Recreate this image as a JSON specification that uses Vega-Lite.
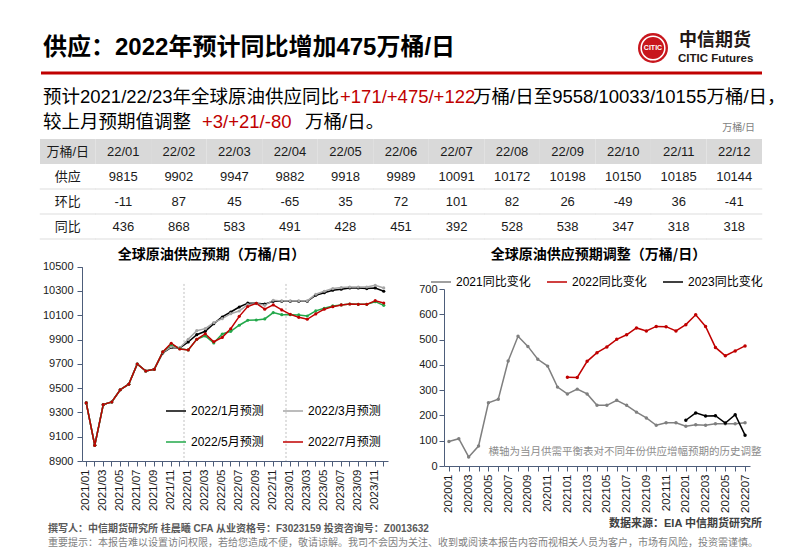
{
  "$schema": "https://vega.github.io/schema/vega-lite/v6.json",
  "background": "#ffffff",
  "padding": 0,
  "spacing": 0,
  "bounds": "flush",
  "config": {
    "view": {"stroke": null},
    "font": "Liberation Sans, Noto Sans CJK SC",
    "axis": {"domainColor": "#4d5d7a", "tickColor": "#4d5d7a", "grid": false, "labelFont": "Liberation Sans", "labelColor": "#1a1a1a", "tickSize": 5, "domainWidth": 1},
    "legend": {"labelFont": "Liberation Sans, Noto Sans CJK SC", "labelColor": "#000000"}
  },
  "vconcat": [
    {
      "width": 802,
      "height": 139,
      "layer": [
        {"data": {"values": [{"t": "供应：2022年预计同比增加475万桶/日"}]}, "mark": {"type": "text", "align": "left", "baseline": "middle", "fontSize": 24, "fontWeight": "bold", "color": "#000000"}, "encoding": {"text": {"field": "t"}, "x": {"value": 43}, "y": {"value": 48}}},
        {"data": {"values": [{}]}, "mark": {"type": "rule", "color": "#c00000", "strokeWidth": 3}, "encoding": {"x": {"value": 41}, "x2": {"value": 762}, "y": {"value": 73}}},
        {"data": {"values": [{}]}, "mark": {"type": "point", "shape": "circle", "filled": true, "size": 900, "color": "#c8161d", "opacity": 1}, "encoding": {"x": {"value": 653}, "y": {"value": 48}}},
        {"data": {"values": [{}]}, "mark": {"type": "point", "shape": "circle", "filled": false, "size": 560, "stroke": "#ffffff", "strokeWidth": 1.5, "opacity": 1}, "encoding": {"x": {"value": 653}, "y": {"value": 48}}},
        {"data": {"values": [{"t": "CITIC"}]}, "mark": {"type": "text", "align": "center", "baseline": "middle", "fontSize": 7, "fontWeight": "bold", "color": "#ffffff"}, "encoding": {"text": {"field": "t"}, "x": {"value": 653}, "y": {"value": 48}}},
        {"data": {"values": [{"t": "中信期货"}]}, "mark": {"type": "text", "align": "left", "baseline": "middle", "fontSize": 18, "fontWeight": "bold", "font": "Noto Sans CJK SC", "color": "#231815"}, "encoding": {"text": {"field": "t"}, "x": {"value": 679}, "y": {"value": 41}}},
        {"data": {"values": [{"t": "CITIC Futures"}]}, "mark": {"type": "text", "align": "left", "baseline": "middle", "fontSize": 11.5, "fontWeight": "bold", "font": "Liberation Sans", "color": "#231815"}, "encoding": {"text": {"field": "t"}, "x": {"value": 678}, "y": {"value": 59}}},
        {"data": {"values": [{"t": "预计2021/22/23年全球原油供应同比"}]}, "mark": {"type": "text", "align": "left", "baseline": "middle", "fontSize": 18.5, "color": "#000000"}, "encoding": {"text": {"field": "t"}, "x": {"value": 43}, "y": {"value": 97}}},
        {"data": {"values": [{"t": "+171/+475/+122"}]}, "mark": {"type": "text", "align": "left", "baseline": "middle", "fontSize": 18.5, "color": "#c00000"}, "encoding": {"text": {"field": "t"}, "x": {"value": 340}, "y": {"value": 97}}},
        {"data": {"values": [{"t": "万桶/日至9558/10033/10155万桶/日，"}]}, "mark": {"type": "text", "align": "left", "baseline": "middle", "fontSize": 18.5, "color": "#000000"}, "encoding": {"text": {"field": "t"}, "x": {"value": 473}, "y": {"value": 97}}},
        {"data": {"values": [{"t": "较上月预期值调整"}]}, "mark": {"type": "text", "align": "left", "baseline": "middle", "fontSize": 18.5, "color": "#000000"}, "encoding": {"text": {"field": "t"}, "x": {"value": 43}, "y": {"value": 122}}},
        {"data": {"values": [{"t": "+3/+21/-80"}]}, "mark": {"type": "text", "align": "left", "baseline": "middle", "fontSize": 18.5, "color": "#c00000"}, "encoding": {"text": {"field": "t"}, "x": {"value": 202}, "y": {"value": 122}}},
        {"data": {"values": [{"t": "万桶/日。"}]}, "mark": {"type": "text", "align": "left", "baseline": "middle", "fontSize": 18.5, "color": "#000000"}, "encoding": {"text": {"field": "t"}, "x": {"value": 305}, "y": {"value": 122}}},
        {"data": {"values": [{"t": "万桶/日"}]}, "mark": {"type": "text", "align": "right", "baseline": "middle", "fontSize": 10, "color": "#7f7f7f"}, "encoding": {"text": {"field": "t"}, "x": {"value": 755}, "y": {"value": 128}}},
        {"data": {"values": [{"t": "撰写人：中信期货研究所 桂晨曦 CFA 从业资格号：F3023159 投资咨询号：Z0013632"}]}, "mark": {"type": "text", "align": "left", "baseline": "middle", "fontSize": 10, "fontWeight": "bold", "color": "#595959"}, "encoding": {"text": {"field": "t"}, "x": {"value": 48}, "y": {"value": 529}}},
        {"data": {"values": [{"t": "重要提示：本报告难以设置访问权限，若给您造成不便，敬请谅解。我司不会因为关注、收到或阅读本报告内容而视相关人员为客户，市场有风险，投资需谨慎。"}]}, "mark": {"type": "text", "align": "left", "baseline": "middle", "fontSize": 10, "color": "#7f7f7f"}, "encoding": {"text": {"field": "t"}, "x": {"value": 48}, "y": {"value": 543}}},
        {"data": {"values": [{"t": "数据来源：EIA 中信期货研究所"}]}, "mark": {"type": "text", "align": "right", "baseline": "middle", "fontSize": 11, "fontWeight": "bold", "color": "#404040"}, "encoding": {"text": {"field": "t"}, "x": {"value": 762}, "y": {"value": 524}}}
      ]
    },
    {
      "width": 802,
      "height": 100,
      "data": {"values": [
        {"r": "h", "c": "k", "v": "万桶/日"}, {"r": "h", "c": "22/01", "v": "22/01"}, {"r": "h", "c": "22/02", "v": "22/02"}, {"r": "h", "c": "22/03", "v": "22/03"}, {"r": "h", "c": "22/04", "v": "22/04"}, {"r": "h", "c": "22/05", "v": "22/05"}, {"r": "h", "c": "22/06", "v": "22/06"}, {"r": "h", "c": "22/07", "v": "22/07"}, {"r": "h", "c": "22/08", "v": "22/08"}, {"r": "h", "c": "22/09", "v": "22/09"}, {"r": "h", "c": "22/10", "v": "22/10"}, {"r": "h", "c": "22/11", "v": "22/11"}, {"r": "h", "c": "22/12", "v": "22/12"},
        {"r": "供应", "c": "k", "v": "供应"}, {"r": "供应", "c": "22/01", "v": "9815"}, {"r": "供应", "c": "22/02", "v": "9902"}, {"r": "供应", "c": "22/03", "v": "9947"}, {"r": "供应", "c": "22/04", "v": "9882"}, {"r": "供应", "c": "22/05", "v": "9918"}, {"r": "供应", "c": "22/06", "v": "9989"}, {"r": "供应", "c": "22/07", "v": "10091"}, {"r": "供应", "c": "22/08", "v": "10172"}, {"r": "供应", "c": "22/09", "v": "10198"}, {"r": "供应", "c": "22/10", "v": "10150"}, {"r": "供应", "c": "22/11", "v": "10185"}, {"r": "供应", "c": "22/12", "v": "10144"},
        {"r": "环比", "c": "k", "v": "环比"}, {"r": "环比", "c": "22/01", "v": "-11"}, {"r": "环比", "c": "22/02", "v": "87"}, {"r": "环比", "c": "22/03", "v": "45"}, {"r": "环比", "c": "22/04", "v": "-65"}, {"r": "环比", "c": "22/05", "v": "35"}, {"r": "环比", "c": "22/06", "v": "72"}, {"r": "环比", "c": "22/07", "v": "101"}, {"r": "环比", "c": "22/08", "v": "82"}, {"r": "环比", "c": "22/09", "v": "26"}, {"r": "环比", "c": "22/10", "v": "-49"}, {"r": "环比", "c": "22/11", "v": "36"}, {"r": "环比", "c": "22/12", "v": "-41"},
        {"r": "同比", "c": "k", "v": "同比"}, {"r": "同比", "c": "22/01", "v": "436"}, {"r": "同比", "c": "22/02", "v": "868"}, {"r": "同比", "c": "22/03", "v": "583"}, {"r": "同比", "c": "22/04", "v": "491"}, {"r": "同比", "c": "22/05", "v": "428"}, {"r": "同比", "c": "22/06", "v": "451"}, {"r": "同比", "c": "22/07", "v": "392"}, {"r": "同比", "c": "22/08", "v": "528"}, {"r": "同比", "c": "22/09", "v": "538"}, {"r": "同比", "c": "22/10", "v": "347"}, {"r": "同比", "c": "22/11", "v": "318"}, {"r": "同比", "c": "22/12", "v": "318"}
      ]},
      "encoding": {
        "x": {"field": "c", "type": "nominal", "scale": {"domain": ["k", "22/01", "22/02", "22/03", "22/04", "22/05", "22/06", "22/07", "22/08", "22/09", "22/10", "22/11", "22/12"], "paddingInner": 0, "paddingOuter": 0.72}, "axis": null},
        "y": {"field": "r", "type": "nominal", "scale": {"domain": ["h", "供应", "环比", "同比"], "paddingInner": 0, "paddingOuter": 0}, "axis": null}
      },
      "layer": [
        {"transform": [{"filter": "datum.r == 'h'"}], "mark": {"type": "rect", "color": "#d9d9d9"}},
        {"transform": [{"filter": "datum.r != 'h'"}], "mark": {"type": "tick", "orient": "horizontal", "color": "#d0d0d0", "thickness": 1}, "encoding": {"y": {"field": "r", "type": "nominal", "bandPosition": 1}, "size": {"value": 56}}},
        {"mark": {"type": "text", "fontSize": 13, "font": "Liberation Sans Narrow, Liberation Sans, Noto Sans CJK SC", "color": "#1a1a1a"}, "encoding": {"text": {"field": "v", "type": "nominal"}}}
      ]
    },
    {
      "bounds": "flush",
      "spacing": 56,
      "resolve": {"scale": {"color": "independent"}, "legend": {"color": "independent"}},
      "hconcat": [
        {"width": 26, "height": 227, "data": {"values": []}, "mark": "point"},
        {
          "width": 306,
          "height": 222,
          "layer": [
            {"data": {"values": [{"t": "全球原油供应预期（万桶/日）"}]}, "mark": {"type": "text", "align": "center", "baseline": "middle", "fontSize": 14, "fontWeight": "bold", "font": "Noto Sans CJK SC", "color": "#000000"}, "encoding": {"text": {"field": "t"}, "x": {"value": 129.5}, "y": {"value": 16}}},
            {"data": {"values": [{"m": "2022/01"}, {"m": "2023/01"}]}, "mark": {"type": "rule", "color": "#bfbfbf", "strokeDash": [2, 2], "strokeWidth": 1}, "encoding": {
              "x": {"field": "m", "type": "ordinal", "bandPosition": 0, "scale": {"domain": ["2021/01","2021/02","2021/03","2021/04","2021/05","2021/06","2021/07","2021/08","2021/09","2021/10","2021/11","2021/12","2022/01","2022/02","2022/03","2022/04","2022/05","2022/06","2022/07","2022/08","2022/09","2022/10","2022/11","2022/12","2023/01","2023/02","2023/03","2023/04","2023/05","2023/06","2023/07","2023/08","2023/09","2023/10","2023/11","2023/12"], "paddingInner": 0, "paddingOuter": 0}, "axis": {"title": null, "labelAngle": -90, "labelFontSize": 11.5, "labelOverlap": false, "labelPadding": 3, "labelExpr": "toNumber(slice(datum.value, 5, 7)) % 2 == 1 ? datum.value : ''"}},
              "y": {"datum": 10358, "type": "quantitative", "scale": {"domain": [8900, 10500], "range": [222, 27.7], "nice": false, "zero": false}, "axis": {"title": null, "format": "d", "values": [8900, 9100, 9300, 9500, 9700, 9900, 10100, 10300, 10500], "labelOverlap": false, "labelFontSize": 11, "labelPadding": 4}},
              "y2": {"datum": 8900}}},
            {
              "data": {"values": [
                {"m":"2021/01","s":"2022/1月预测","v":9378},{"m":"2021/02","s":"2022/1月预测","v":9029},{"m":"2021/03","s":"2022/1月预测","v":9364},{"m":"2021/04","s":"2022/1月预测","v":9386},{"m":"2021/05","s":"2022/1月预测","v":9487},{"m":"2021/06","s":"2022/1月预测","v":9532},{"m":"2021/07","s":"2022/1月预测","v":9699},{"m":"2021/08","s":"2022/1月预测","v":9641},{"m":"2021/09","s":"2022/1月预测","v":9655},{"m":"2021/10","s":"2022/1月预测","v":9790},{"m":"2021/11","s":"2022/1月预测","v":9835},{"m":"2021/12","s":"2022/1月预测","v":9830},
                {"m":"2022/01","s":"2022/1月预测","v":9880},{"m":"2022/02","s":"2022/1月预测","v":9940},{"m":"2022/03","s":"2022/1月预测","v":9968},{"m":"2022/04","s":"2022/1月预测","v":10031},{"m":"2022/05","s":"2022/1月预测","v":10086},{"m":"2022/06","s":"2022/1月预测","v":10127},{"m":"2022/07","s":"2022/1月预测","v":10168},{"m":"2022/08","s":"2022/1月预测","v":10200},{"m":"2022/09","s":"2022/1月预测","v":10198},{"m":"2022/10","s":"2022/1月预测","v":10192},{"m":"2022/11","s":"2022/1月预测","v":10215},{"m":"2022/12","s":"2022/1月预测","v":10215},
                {"m":"2023/01","s":"2022/1月预测","v":10215},{"m":"2023/02","s":"2022/1月预测","v":10215},{"m":"2023/03","s":"2022/1月预测","v":10215},{"m":"2023/04","s":"2022/1月预测","v":10265},{"m":"2023/05","s":"2022/1月预测","v":10286},{"m":"2023/06","s":"2022/1月预测","v":10306},{"m":"2023/07","s":"2022/1月预测","v":10314},{"m":"2023/08","s":"2022/1月预测","v":10325},{"m":"2023/09","s":"2022/1月预测","v":10325},{"m":"2023/10","s":"2022/1月预测","v":10320},{"m":"2023/11","s":"2022/1月预测","v":10325},{"m":"2023/12","s":"2022/1月预测","v":10298},
                {"m":"2021/01","s":"2022/3月预测","v":9378},{"m":"2021/02","s":"2022/3月预测","v":9029},{"m":"2021/03","s":"2022/3月预测","v":9364},{"m":"2021/04","s":"2022/3月预测","v":9386},{"m":"2021/05","s":"2022/3月预测","v":9487},{"m":"2021/06","s":"2022/3月预测","v":9532},{"m":"2021/07","s":"2022/3月预测","v":9699},{"m":"2021/08","s":"2022/3月预测","v":9641},{"m":"2021/09","s":"2022/3月预测","v":9655},{"m":"2021/10","s":"2022/3月预测","v":9795},{"m":"2021/11","s":"2022/3月预测","v":9840},{"m":"2021/12","s":"2022/3月预测","v":9832},
                {"m":"2022/01","s":"2022/3月预测","v":9902},{"m":"2022/02","s":"2022/3月预测","v":9973},{"m":"2022/03","s":"2022/3月预测","v":9990},{"m":"2022/04","s":"2022/3月预测","v":10039},{"m":"2022/05","s":"2022/3月预测","v":10072},{"m":"2022/06","s":"2022/3月预测","v":10113},{"m":"2022/07","s":"2022/3月预测","v":10135},{"m":"2022/08","s":"2022/3月预测","v":10188},{"m":"2022/09","s":"2022/3月预测","v":10196},{"m":"2022/10","s":"2022/3月预测","v":10182},{"m":"2022/11","s":"2022/3月预测","v":10224},{"m":"2022/12","s":"2022/3月预测","v":10218},
                {"m":"2023/01","s":"2022/3月预测","v":10218},{"m":"2023/02","s":"2022/3月预测","v":10218},{"m":"2023/03","s":"2022/3月预测","v":10218},{"m":"2023/04","s":"2022/3月预测","v":10273},{"m":"2023/05","s":"2022/3月预测","v":10298},{"m":"2023/06","s":"2022/3月预测","v":10320},{"m":"2023/07","s":"2022/3月预测","v":10328},{"m":"2023/08","s":"2022/3月预测","v":10333},{"m":"2023/09","s":"2022/3月预测","v":10333},{"m":"2023/10","s":"2022/3月预测","v":10333},{"m":"2023/11","s":"2022/3月预测","v":10347},{"m":"2023/12","s":"2022/3月预测","v":10325},
                {"m":"2021/01","s":"2022/5月预测","v":9378},{"m":"2021/02","s":"2022/5月预测","v":9029},{"m":"2021/03","s":"2022/5月预测","v":9364},{"m":"2021/04","s":"2022/5月预测","v":9386},{"m":"2021/05","s":"2022/5月预测","v":9487},{"m":"2021/06","s":"2022/5月预测","v":9532},{"m":"2021/07","s":"2022/5月预测","v":9699},{"m":"2021/08","s":"2022/5月预测","v":9641},{"m":"2021/09","s":"2022/5月预测","v":9655},{"m":"2021/10","s":"2022/5月预测","v":9798},{"m":"2021/11","s":"2022/5月预测","v":9860},{"m":"2021/12","s":"2022/5月预测","v":9825},
                {"m":"2022/01","s":"2022/5月预测","v":9815},{"m":"2022/02","s":"2022/5月预测","v":9902},{"m":"2022/03","s":"2022/5月预测","v":9930},{"m":"2022/04","s":"2022/5月预测","v":9872},{"m":"2022/05","s":"2022/5月预测","v":9946},{"m":"2022/06","s":"2022/5月预测","v":9968},{"m":"2022/07","s":"2022/5月预测","v":10018},{"m":"2022/08","s":"2022/5月预测","v":10059},{"m":"2022/09","s":"2022/5月预测","v":10061},{"m":"2022/10","s":"2022/5月预测","v":10070},{"m":"2022/11","s":"2022/5月预测","v":10122},{"m":"2022/12","s":"2022/5月预测","v":10105},
                {"m":"2023/01","s":"2022/5月预测","v":10105},{"m":"2023/02","s":"2022/5月预测","v":10103},{"m":"2023/03","s":"2022/5月预测","v":10094},{"m":"2023/04","s":"2022/5月预测","v":10136},{"m":"2023/05","s":"2022/5月预测","v":10158},{"m":"2023/06","s":"2022/5月预测","v":10177},{"m":"2023/07","s":"2022/5月预测","v":10185},{"m":"2023/08","s":"2022/5月预测","v":10193},{"m":"2023/09","s":"2022/5月预测","v":10190},{"m":"2023/10","s":"2022/5月预测","v":10190},{"m":"2023/11","s":"2022/5月预测","v":10212},{"m":"2023/12","s":"2022/5月预测","v":10182},
                {"m":"2021/01","s":"2022/7月预测","v":9378},{"m":"2021/02","s":"2022/7月预测","v":9029},{"m":"2021/03","s":"2022/7月预测","v":9364},{"m":"2021/04","s":"2022/7月预测","v":9386},{"m":"2021/05","s":"2022/7月预测","v":9487},{"m":"2021/06","s":"2022/7月预测","v":9532},{"m":"2021/07","s":"2022/7月预测","v":9699},{"m":"2021/08","s":"2022/7月预测","v":9641},{"m":"2021/09","s":"2022/7月预测","v":9655},{"m":"2021/10","s":"2022/7月预测","v":9798},{"m":"2021/11","s":"2022/7月预测","v":9869},{"m":"2021/12","s":"2022/7月预测","v":9822},
                {"m":"2022/01","s":"2022/7月预测","v":9815},{"m":"2022/02","s":"2022/7月预测","v":9902},{"m":"2022/03","s":"2022/7月预测","v":9947},{"m":"2022/04","s":"2022/7月预测","v":9882},{"m":"2022/05","s":"2022/7月预测","v":9918},{"m":"2022/06","s":"2022/7月预测","v":9989},{"m":"2022/07","s":"2022/7月预测","v":10091},{"m":"2022/08","s":"2022/7月预测","v":10172},{"m":"2022/09","s":"2022/7月预测","v":10198},{"m":"2022/10","s":"2022/7月预测","v":10150},{"m":"2022/11","s":"2022/7月预测","v":10185},{"m":"2022/12","s":"2022/7月预测","v":10144},
                {"m":"2023/01","s":"2022/7月预测","v":10108},{"m":"2023/02","s":"2022/7月预测","v":10083},{"m":"2023/03","s":"2022/7月预测","v":10067},{"m":"2023/04","s":"2022/7月预测","v":10111},{"m":"2023/05","s":"2022/7月预测","v":10150},{"m":"2023/06","s":"2022/7月预测","v":10171},{"m":"2023/07","s":"2022/7月预测","v":10185},{"m":"2023/08","s":"2022/7月预测","v":10193},{"m":"2023/09","s":"2022/7月预测","v":10190},{"m":"2023/10","s":"2022/7月预测","v":10190},{"m":"2023/11","s":"2022/7月预测","v":10220},{"m":"2023/12","s":"2022/7月预测","v":10201}
              ]},
              "mark": {"type": "line", "strokeWidth": 1.5, "point": {"filled": true, "size": 10}},
              "encoding": {
                "x": {"field": "m", "type": "ordinal", "scale": {"domain": ["2021/01","2021/02","2021/03","2021/04","2021/05","2021/06","2021/07","2021/08","2021/09","2021/10","2021/11","2021/12","2022/01","2022/02","2022/03","2022/04","2022/05","2022/06","2022/07","2022/08","2022/09","2022/10","2022/11","2022/12","2023/01","2023/02","2023/03","2023/04","2023/05","2023/06","2023/07","2023/08","2023/09","2023/10","2023/11","2023/12"], "paddingInner": 0, "paddingOuter": 0}, "axis": {"title": null, "labelAngle": -90, "labelFontSize": 11.5, "labelOverlap": false, "labelPadding": 3, "labelExpr": "toNumber(slice(datum.value, 5, 7)) % 2 == 1 ? datum.value : ''"}},
                "y": {"field": "v", "type": "quantitative", "scale": {"domain": [8900, 10500], "range": [222, 27.7], "nice": false, "zero": false}, "axis": {"title": null, "format": "d", "values": [8900, 9100, 9300, 9500, 9700, 9900, 10100, 10300, 10500], "labelOverlap": false, "labelFontSize": 11, "labelPadding": 4}},
                "color": {"field": "s", "type": "nominal", "scale": {"domain": ["2022/1月预测", "2022/5月预测", "2022/3月预测", "2022/7月预测"], "range": ["#000000", "#22a84a", "#a6a6a6", "#c00000"]}, "legend": {"title": null, "orient": "none", "legendX": 83, "legendY": 161, "columns": 2, "symbolType": "stroke", "symbolSize": 400, "symbolStrokeWidth": 1.5, "labelFontSize": 12, "columnPadding": 16, "rowPadding": 14}}
              }
            }
          ]
        },
        {
          "width": 306,
          "height": 227,
          "layer": [
            {"data": {"values": [{"t": "全球原油供应预期调整（万桶/日）"}]}, "mark": {"type": "text", "align": "center", "baseline": "middle", "fontSize": 14, "fontWeight": "bold", "font": "Noto Sans CJK SC", "color": "#000000"}, "encoding": {"text": {"field": "t"}, "x": {"value": 154.5}, "y": {"value": 16}}},
            {
              "data": {"values": [
                {"m":"202001","s":"2021同比变化","v":97},{"m":"202002","s":"2021同比变化","v":108},{"m":"202003","s":"2021同比变化","v":36},{"m":"202004","s":"2021同比变化","v":79},{"m":"202005","s":"2021同比变化","v":250},{"m":"202006","s":"2021同比变化","v":264},{"m":"202007","s":"2021同比变化","v":415},{"m":"202008","s":"2021同比变化","v":513},{"m":"202009","s":"2021同比变化","v":473},{"m":"202010","s":"2021同比变化","v":422},{"m":"202011","s":"2021同比变化","v":395},{"m":"202012","s":"2021同比变化","v":312},
                {"m":"202101","s":"2021同比变化","v":285},{"m":"202102","s":"2021同比变化","v":304},{"m":"202103","s":"2021同比变化","v":285},{"m":"202104","s":"2021同比变化","v":240},{"m":"202105","s":"2021同比变化","v":240},{"m":"202106","s":"2021同比变化","v":260},{"m":"202107","s":"2021同比变化","v":240},{"m":"202108","s":"2021同比变化","v":213},{"m":"202109","s":"2021同比变化","v":190},{"m":"202110","s":"2021同比变化","v":161},{"m":"202111","s":"2021同比变化","v":171},{"m":"202112","s":"2021同比变化","v":171},
                {"m":"202201","s":"2021同比变化","v":157},{"m":"202202","s":"2021同比变化","v":163},{"m":"202203","s":"2021同比变化","v":161},{"m":"202204","s":"2021同比变化","v":167},{"m":"202205","s":"2021同比变化","v":167},{"m":"202206","s":"2021同比变化","v":167},{"m":"202207","s":"2021同比变化","v":171},
                {"m":"202101","s":"2022同比变化","v":351},{"m":"202102","s":"2022同比变化","v":350},{"m":"202103","s":"2022同比变化","v":414},{"m":"202104","s":"2022同比变化","v":448},{"m":"202105","s":"2022同比变化","v":471},{"m":"202106","s":"2022同比变化","v":501},{"m":"202107","s":"2022同比变化","v":519},{"m":"202108","s":"2022同比变化","v":546},{"m":"202109","s":"2022同比变化","v":534},{"m":"202110","s":"2022同比变化","v":552},{"m":"202111","s":"2022同比变化","v":551},{"m":"202112","s":"2022同比变化","v":534},
                {"m":"202201","s":"2022同比变化","v":559},{"m":"202202","s":"2022同比变化","v":598},{"m":"202203","s":"2022同比变化","v":552},{"m":"202204","s":"2022同比变化","v":469},{"m":"202205","s":"2022同比变化","v":436},{"m":"202206","s":"2022同比变化","v":455},{"m":"202207","s":"2022同比变化","v":475},
                {"m":"202201","s":"2023同比变化","v":181},{"m":"202202","s":"2023同比变化","v":210},{"m":"202203","s":"2023同比变化","v":198},{"m":"202204","s":"2023同比变化","v":199},{"m":"202205","s":"2023同比变化","v":170},{"m":"202206","s":"2023同比变化","v":203},{"m":"202207","s":"2023同比变化","v":122}
              ]},
              "mark": {"type": "line", "strokeWidth": 1.5, "point": {"filled": true, "size": 12}},
              "encoding": {
                "x": {"field": "m", "type": "ordinal", "scale": {"domain": ["202001","202002","202003","202004","202005","202006","202007","202008","202009","202010","202011","202012","202101","202102","202103","202104","202105","202106","202107","202108","202109","202110","202111","202112","202201","202202","202203","202204","202205","202206","202207"], "paddingInner": 0, "paddingOuter": 0}, "axis": {"title": null, "labelAngle": -90, "labelFontSize": 11.5, "labelOverlap": false, "labelPadding": 3, "labelExpr": "toNumber(slice(datum.value, 4, 6)) % 2 == 1 ? datum.value : ''"}},
                "y": {"field": "v", "type": "quantitative", "scale": {"domain": [0, 700], "range": [227, 50], "nice": false, "zero": true}, "axis": {"title": null, "format": "d", "values": [0, 100, 200, 300, 400, 500, 600, 700], "labelOverlap": false, "labelFontSize": 11, "labelPadding": 2}},
                "color": {"field": "s", "type": "nominal", "scale": {"domain": ["2021同比变化", "2022同比变化", "2023同比变化"], "range": ["#7f7f7f", "#c00000", "#000000"]}, "legend": {"title": null, "orient": "none", "legendX": -14, "legendY": 32, "direction": "horizontal", "symbolType": "stroke", "symbolSize": 400, "symbolStrokeWidth": 1.5, "labelFontSize": 12, "columnPadding": 13}}
              }
            },
            {"data": {"values": [{"t": "横轴为当月供需平衡表对不同年份供应增幅预期的历史调整"}]}, "mark": {"type": "text", "align": "left", "baseline": "middle", "fontSize": 10.5, "font": "Noto Sans CJK SC", "color": "#8c8c8c"}, "encoding": {
              "text": {"field": "t"},
              "x": {"datum": "202005", "type": "ordinal", "scale": {"domain": ["202001","202002","202003","202004","202005","202006","202007","202008","202009","202010","202011","202012","202101","202102","202103","202104","202105","202106","202107","202108","202109","202110","202111","202112","202201","202202","202203","202204","202205","202206","202207"], "paddingInner": 0, "paddingOuter": 0}, "axis": {"title": null, "labelAngle": -90, "labelFontSize": 11.5, "labelOverlap": false, "labelPadding": 3, "labelExpr": "toNumber(slice(datum.value, 4, 6)) % 2 == 1 ? datum.value : ''"}},
              "y": {"datum": 55, "type": "quantitative", "scale": {"domain": [0, 700], "range": [227, 50], "nice": false, "zero": true}, "axis": {"title": null, "format": "d", "values": [0, 100, 200, 300, 400, 500, 600, 700], "labelOverlap": false, "labelFontSize": 11, "labelPadding": 2}}}}
          ]
        }
      ]
    }
  ]
}
